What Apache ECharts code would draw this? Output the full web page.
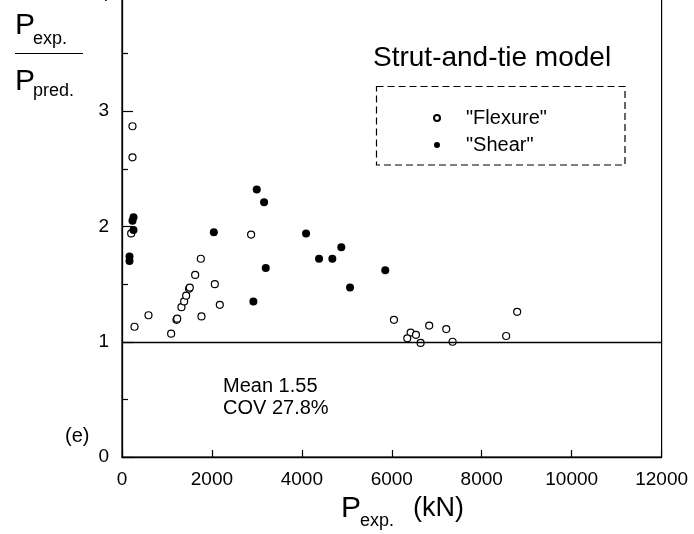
<!DOCTYPE html>
<html>
<head>
<meta charset="utf-8">
<script src="https://cdn.jsdelivr.net/npm/echarts@6/dist/echarts.min.js"></script>
<style>
  html, body { margin: 0; padding: 0; background: #fff; }
  #chart { width: 694px; height: 534px; }
</style>
</head>
<body>
<div id="chart"></div>
<script>
// Experimental load (kN) and ratio of experimental to predicted load
const flexureLoad  = [233, 233, 204, 278, 589, 1093, 1212, 1228, 1322, 1382, 1427, 1492, 1508, 1627, 1753, 1767, 2064, 2175, 2871, 6048, 6419, 6344, 6537, 6641, 6832, 7211, 7352, 8543, 8788];
const flexureRatio = [2.87, 2.60, 1.94, 1.13, 1.23, 1.07, 1.19, 1.20, 1.30, 1.35, 1.40, 1.46, 1.47, 1.58, 1.72, 1.22, 1.50, 1.32, 1.93, 1.19, 1.08, 1.03, 1.06, 0.99, 1.14, 1.11, 1.00, 1.05, 1.26];

const shearLoad  = [167, 167, 256, 233, 256, 2042, 2997, 3160, 3197, 2922, 4093, 4382, 4678, 4877, 5071, 5855];
const shearRatio = [1.74, 1.70, 1.97, 2.05, 2.08, 1.95, 2.32, 2.21, 1.64, 1.35, 1.94, 1.72, 1.72, 1.82, 1.47, 1.62];

const xTicks = [0, 2000, 4000, 6000, 8000, 10000, 12000];
const yTicks = [0, 1, 2, 3, 4];
const unityRatio = 1;

const FONT = '"Liberation Sans", Arial, Helvetica, sans-serif';

const pairs = (xs, ys) => xs.map((x, i) => [x, ys[i]]);

const chart = echarts.init(document.getElementById('chart'), null, { renderer: 'canvas' });

function txt(x, y, text, size, align) {
  return {
    type: 'text', x: x, y: y, silent: true,
    style: {
      text: text, fill: '#000',
      font: size + 'px ' + FONT,
      textAlign: align || 'left',
      textVerticalAlign: 'middle', verticalAlign: 'middle'
    }
  };
}

chart.setOption({
  animation: false,
  backgroundColor: '#fff',
  grid: {
    left: 122, right: 32.4, top: -4, bottom: 77,
    containLabel: false,
    outerBoundsMode: 'none',
    show: true, borderColor: '#000', borderWidth: 1.2
  },
  xAxis: {
    type: 'value',
    min: xTicks[0], max: xTicks[xTicks.length - 1], interval: 2000,
    axisLine: { show: true, onZero: false, lineStyle: { color: '#000', width: 1.3 } },
    axisTick: { show: true, inside: true, length: 7, lineStyle: { color: '#000', width: 1.2 } },
    axisLabel: { color: '#000', fontSize: 19, fontFamily: FONT, margin: 13, formatter: v => String(v) },
    splitLine: { show: false }
  },
  yAxis: {
    type: 'value',
    min: yTicks[0], max: yTicks[yTicks.length - 1], interval: 1,
    axisLine: { show: true, lineStyle: { color: '#000', width: 1.3 } },
    axisTick: { show: true, inside: true, length: 11, lineStyle: { color: '#000', width: 1.2 } },
    minorTick: { show: true, splitNumber: 2, length: 6, lineStyle: { color: '#000', width: 1.2 } },
    axisLabel: { color: '#000', fontSize: 19, fontFamily: FONT, margin: 13, formatter: v => String(v) },
    splitLine: { show: false }
  },
  legend: {
    orient: 'vertical',
    left: 428, top: 103,
    itemWidth: 6, itemHeight: 6,
    itemGap: 7,
    icon: 'circle',
    textStyle: { color: '#000', fontSize: 20, fontFamily: FONT, lineHeight: 20, padding: [0, 0, 0, 21] },
    data: ['"Flexure"', '"Shear"']
  },
  series: [
    {
      name: '"Flexure"',
      type: 'scatter',
      symbol: 'circle', symbolSize: 7,
      itemStyle: { color: '#fff', borderColor: '#000', borderWidth: 1.2, opacity: 1 },
      data: pairs(flexureLoad, flexureRatio),
      markLine: {
        silent: true, symbol: 'none', animation: false,
        label: { show: false },
        lineStyle: { color: '#000', width: 1.4, type: 'solid' },
        data: [{ yAxis: unityRatio }]
      },
      z: 3
    },
    {
      name: '"Shear"',
      type: 'scatter',
      symbol: 'circle', symbolSize: 8,
      itemStyle: { color: '#000', borderColor: '#000', borderWidth: 0, opacity: 1 },
      data: pairs(shearLoad, shearRatio),
      z: 4
    }
  ],
  graphic: [
    // vertical axis title: P_exp. / P_pred.
    txt(15, 26, 'P', 30),
    txt(33, 39, 'exp.', 18),
    { type: 'line', silent: true, shape: { x1: 15, y1: 53.5, x2: 83, y2: 53.5 }, style: { stroke: '#000', lineWidth: 1.2 } },
    txt(15, 82, 'P', 30),
    txt(33, 91, 'pred.', 18),
    // horizontal axis title: P_exp. (kN)
    txt(341, 509, 'P', 30),
    txt(360, 521, 'exp.', 18),
    txt(413, 509, '(kN)', 27),
    // heading and legend frame
    txt(373, 58, 'Strut-and-tie model', 28),
    {
      type: 'rect', silent: true,
      shape: { x: 376.5, y: 86.5, width: 248.5, height: 78.5 },
      style: { fill: 'none', stroke: '#000', lineWidth: 1.2, lineDash: [7, 4] }
    },
    // statistics
    txt(223, 386, 'Mean 1.55', 20),
    txt(223, 408, 'COV 27.8%', 20),
    txt(65, 436, '(e)', 20)
  ]
});
</script>
</body>
</html>
